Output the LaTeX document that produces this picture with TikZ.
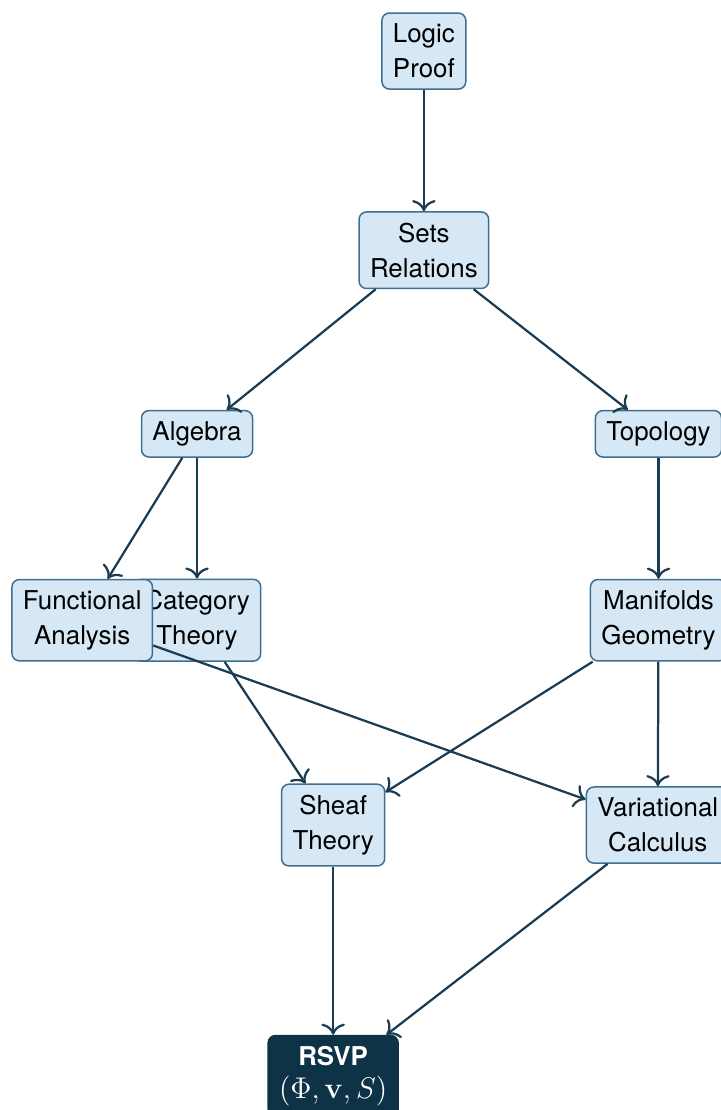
\documentclass[tikz,border=0pt]{standalone}
\usepackage[no-math]{fontspec}
\setmainfont{TeX Gyre Heros}
\usetikzlibrary{arrows.meta}

\definecolor{boxfill}{HTML}{D6E8F5}
\definecolor{boxline}{HTML}{3F6E8E}
\definecolor{linkcol}{HTML}{1B3C52}
\definecolor{goalfill}{HTML}{0E3347}

\begin{document}
\begin{tikzpicture}[
  box/.style={draw=boxline, fill=boxfill, rounded corners=3pt, line width=0.6pt,
    align=center, inner sep=4.4pt, font=\fontsize{10.4}{14}\selectfont},
  goal/.style={box, draw=goalfill, fill=goalfill, text=white},
  link/.style={-{To[scale=1.25]}, line width=0.9pt, draw=linkcol}
]
  % Frame (the picture is cut on the right and at the bottom)
  \useasboundingbox (0,0) rectangle (10.17,-15.66);

  % Top chain
  \node[box] (logic) at (5.98,-0.72) {Logic\\Proof};
  \node[box] (sets)  at (5.98,-3.53) {Sets\\Relations};

  % Two branches
  \node[box] (alg)  at (2.78,-6.12) {Algebra};
  \node[box] (topo) at (9.29,-6.12) {Topology};

  % Fourth row (Functional Analysis sits over Category Theory)
  \node[box] (cat)  at (2.78,-8.75) {Category\\Theory};
  \node[box] (func) at (1.16,-8.75) {Functional\\Analysis};
  \node[box] (mani) at (9.29,-8.75) {Manifolds\\Geometry};

  % Fifth row
  \node[box] (sheaf) at (4.70,-11.64) {Sheaf\\Theory};
  \node[box] (var)   at (9.28,-11.64) {Variational\\Calculus};

  % Target
  \node[goal] (rsvp) at (4.70,-15.18)
    {\textbf{RSVP}\\[-1pt]{\large $(\Phi,\mathbf{v},S)$}};

  % Links
  \draw[link] (logic) -- (sets);
  \draw[link] (sets) -- (alg);
  \draw[link] (sets) -- (topo);
  \draw[link] (alg) -- (func);
  \draw[link] (alg) -- (cat);
  \draw[link] (topo) -- (mani);
  \draw[link] (cat) -- (sheaf);
  \draw[link] (func) -- (var);
  \draw[link] (mani) -- (sheaf);
  \draw[link] (mani) -- (var);
  \draw[link] (sheaf) -- (rsvp);
  \draw[link] (var) -- (rsvp);
\end{tikzpicture}
\end{document}
